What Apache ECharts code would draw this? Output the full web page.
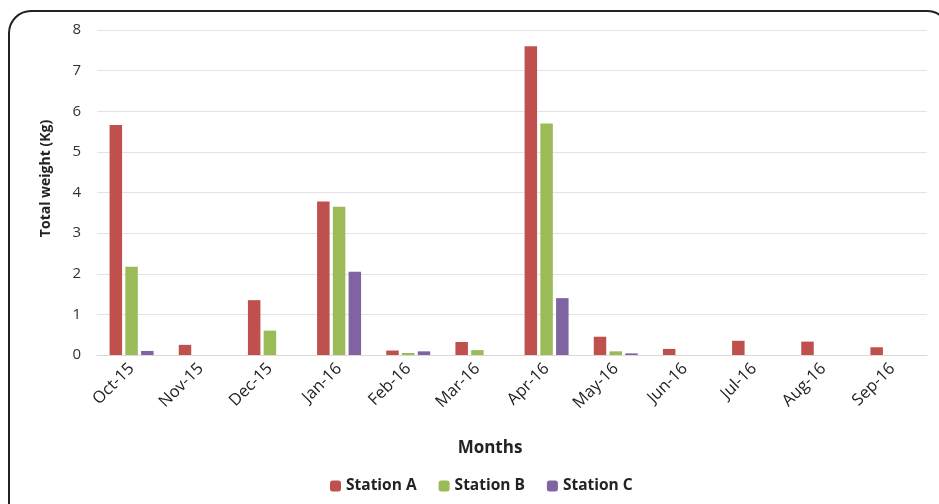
<!DOCTYPE html>
<html lang="en" style="height: 100%">
<head>
  <meta charset="utf-8">
  <style>
    body { margin: 0; background: #fff; }
  </style>
</head>
<body style="height: 100%; margin: 0">
  <div id="container" style="width: 939px; height: 504px"></div>
  <script src="https://cdn.jsdelivr.net/npm/echarts@6/dist/echarts.min.js"></script>
  <script>
    var months = ['Oct-15', 'Nov-15', 'Dec-15', 'Jan-16', 'Feb-16', 'Mar-16',
                  'Apr-16', 'May-16', 'Jun-16', 'Jul-16', 'Aug-16', 'Sep-16'];
    var stationA = [5.66, 0.25, 1.35, 3.78, 0.11, 0.32, 7.6, 0.45, 0.15, 0.35, 0.33, 0.19];
    var stationB = [2.17, 0, 0.6, 3.65, 0.05, 0.12, 5.7, 0.09, 0, 0, 0, 0];
    var stationC = [0.1, 0, 0, 2.05, 0.09, 0, 1.4, 0.04, 0, 0, 0, 0];

    var font = 'Open Sans';
    var myChart = echarts.init(document.getElementById('container'), null, { renderer: 'canvas' });

    function bar(name, data, color) {
      return {
        name: name,
        type: 'bar',
        data: data,
        barWidth: 12.5,
        barGap: '26%',
        itemStyle: { color: color },
        animation: false
      };
    }

    var option = {
      backgroundColor: '#fff',
      textStyle: { fontFamily: font },
      graphic: [{
        type: 'rect',
        shape: { x: 9, y: 11, width: 940, height: 520, r: 22 },
        style: { fill: 'none', stroke: '#222', lineWidth: 2 },
        z: -1
      }],
      grid: { left: 97, right: 12, top: 30, bottom: 149 },
      legend: {
        data: ['Station A', 'Station B', 'Station C'],
        bottom: 5,
        left: 325,
        itemWidth: 11,
        itemHeight: 11,
        itemGap: 22,
        textStyle: { fontFamily: font, fontSize: 15.5, fontWeight: 'bold', color: '#222' }
      },
      xAxis: {
        type: 'category',
        data: months,
        name: 'Months',
        nameLocation: 'middle',
        nameGap: 85,
        nameTextStyle: { fontFamily: font, fontSize: 17, fontWeight: 'bold', color: '#222', padding: [0, 44, 0, 0] },
        axisLine: { lineStyle: { color: '#d9d9d9' } },
        axisTick: { length: 5, lineStyle: { color: '#d9d9d9' } },
        axisLabel: { rotate: 45, fontSize: 16.5, color: '#222', margin: 11 }
      },
      yAxis: {
        type: 'value',
        min: 0,
        max: 8,
        interval: 1,
        name: 'Total weight (Kg)',
        nameLocation: 'middle',
        nameGap: 44,
        nameTextStyle: { fontFamily: font, fontSize: 14, fontWeight: 'bold', color: '#222', padding: [0, 0, 0, 28] },
        axisLine: { show: false },
        axisTick: { show: false },
        axisLabel: { fontSize: 15, color: '#333', margin: 16 },
        splitLine: { lineStyle: { color: '#e3e3e3' } }
      },
      series: [
        bar('Station A', stationA, '#C0504D'),
        bar('Station B', stationB, '#9BBB59'),
        bar('Station C', stationC, '#8064A2')
      ]
    };

    myChart.setOption(option);
    window.addEventListener('resize', myChart.resize);
  </script>
</body>
</html>
